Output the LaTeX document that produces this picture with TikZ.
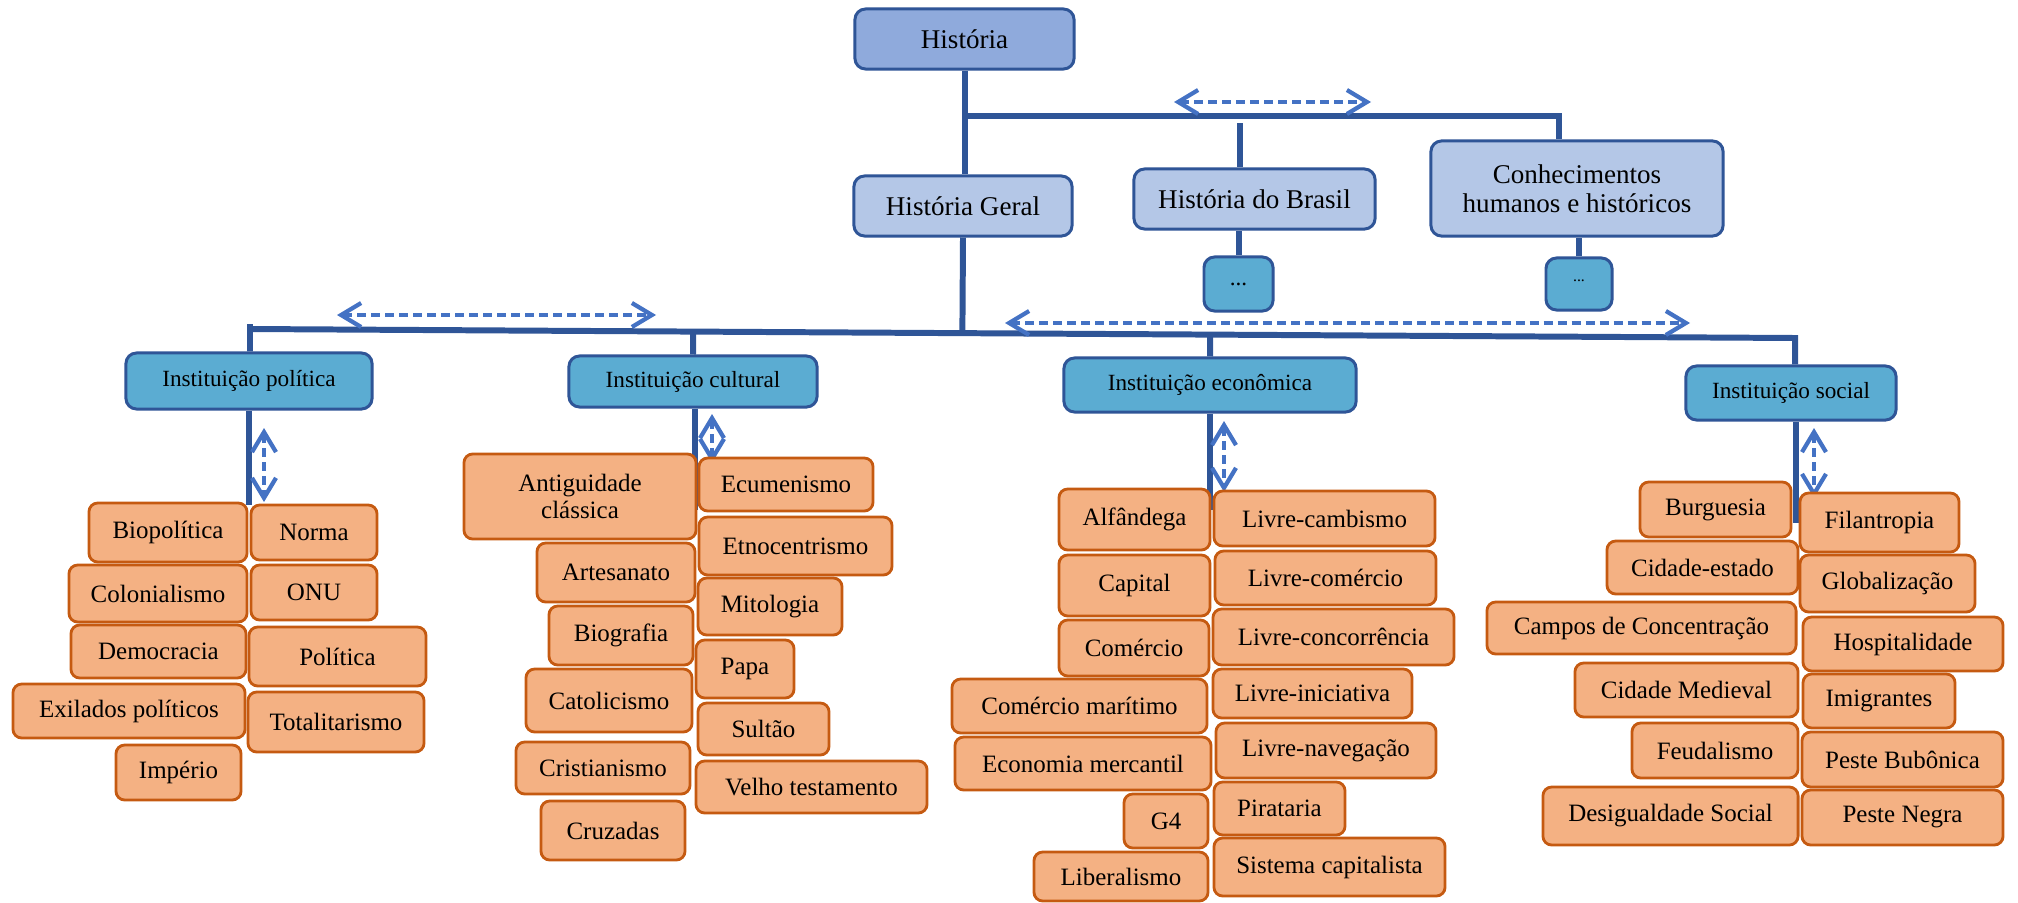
\documentclass[tikz,border=0pt]{standalone}
\usepackage{fontspec}
\setmainfont{Liberation Serif}
\usetikzlibrary{arrows.meta,calc}

\definecolor{azulescuro}{HTML}{2F5597}
\definecolor{azulmedio}{HTML}{4472C4}
\definecolor{azultopo}{HTML}{8FAADC}
\definecolor{azulclaro}{HTML}{B4C7E7}
\definecolor{azulinst}{HTML}{5BACD2}
\definecolor{laranja}{HTML}{F4B183}
\definecolor{laranjaescuro}{HTML}{C55A11}

\tikzset{
  topo/.style={draw=azulescuro, fill=azultopo, line width=0.85pt, rounded corners=3pt,
    inner sep=0pt, align=center, font=\fontsize{7.7}{8.3}\selectfont},
  ramo/.style={topo, fill=azulclaro},
  inst/.style={topo, fill=azulinst, font=\fontsize{6.6}{8}\selectfont},
  folha/.style={draw=laranjaescuro, fill=laranja, line width=0.8pt, rounded corners=2.5pt,
    inner sep=0pt, align=center, font=\fontsize{7.1}{7.6}\selectfont},
  linha/.style={draw=azulescuro, line width=1.7pt},
  seta/.style={draw=azulmedio, line width=1.2pt, dash pattern=on 0.09cm off 0.05cm,
    {Straight Barb[length=0.2cm,width=0.24cm]}-{Straight Barb[length=0.2cm,width=0.24cm]}},
}

\begin{document}
\begin{tikzpicture}[x=0.01cm, y=-0.01cm]
    \useasboundingbox (0,0) rectangle (2018,903);

    % caixas do topo
    \node[topo, minimum width=2.19cm, minimum height=0.6cm] (historia) at (964.5,39) {História};
    \node[ramo, minimum width=2.18cm, minimum height=0.6cm] (geral) at (963,206) {História Geral};
    \node[ramo, minimum width=2.41cm, minimum height=0.6cm] (brasil) at (1254.5,199) {História do Brasil};
    \node[ramo, minimum width=2.92cm, minimum height=0.95cm] (conhec) at (1577,188.5) {Conhecimentos\\humanos e históricos};
    \node[inst, minimum width=0.69cm, minimum height=0.54cm] (mais1) at (1238.5,284) {...};
    \node[inst, minimum width=0.66cm, minimum height=0.52cm, font=\fontsize{4.5}{5}\selectfont] (mais2) at (1579,284) {\raisebox{1ex}{...}};

    % instituições
    \node[inst, minimum width=2.46cm, minimum height=0.56cm] (politica) at (249,381) {Instituição política};
    \node[inst, minimum width=2.48cm, minimum height=0.51cm] (cultural) at (693,381.5) {Instituição cultural};
    \node[inst, minimum width=2.92cm, minimum height=0.54cm] (economica) at (1210,385) {Instituição econômica};
    \node[inst, minimum width=2.10cm, minimum height=0.54cm] (social) at (1791,393) {Instituição social};

    % ligações de cima
    \coordinate (juncao) at (963,116);
    \coordinate (quina) at (1559,116);
    \coordinate (brasiltopo) at (1240,123);
    \draw[linha] (historia.south) -- (historia.south |- geral.north);
    \draw[linha] (juncao) -- (quina) -- (quina |- conhec.north);
    \draw[linha] (brasiltopo) -- (brasiltopo |- brasil.north);
    \draw[linha] (mais1.north) -- (mais1.north |- brasil.south);
    \draw[linha] (mais2.north) -- (mais2.north |- conhec.south);

    % barra das instituições
    \coordinate (esq) at (250,329);
    \coordinate (dir) at (1795,338);
    \draw[linha] (geral.south) -- ($(esq)!(geral.south)!(dir)$);
    \draw[linha] (esq |- politica.north) -- (esq) -- (dir) -- (dir |- social.north);
    \draw[linha] (esq) -- ++(0,-5);
    \draw[linha] (cultural.north) -- ($(esq)!(cultural.north)!(dir)$);
    \draw[linha] (economica.north) -- ($(esq)!(economica.north)!(dir)$);

    % setas tracejadas horizontais
    \coordinate (h1a) at (1174,102); \coordinate (h1b) at (1371,102);
    \coordinate (h2a) at (337,315);  \coordinate (h2b) at (656,315);
    \coordinate (h3a) at (1005,323); \coordinate (h3b) at (1690,323);
    \draw[seta] (h1a) -- (h1b);
    \draw[seta] (h2a) -- (h2b);
    \draw[seta] (h3a) -- (h3b);

    % troncos sob as instituições
    \coordinate (pe1) at (249,505);
    \coordinate (pe2) at (695,510);
    \coordinate (pe3) at (1210,510);
    \coordinate (pe4) at (1796,523);
    \draw[linha] (pe1 |- politica.south) -- (pe1);
    \draw[linha] (pe2 |- cultural.south) -- (pe2);
    \draw[linha] (pe3 |- economica.south) -- (pe3);
    \draw[linha] (pe4 |- social.south) -- (pe4);

    % setas tracejadas verticais
    \coordinate (v1a) at (264,428);  \coordinate (v1b) at (264,502);
    \coordinate (v2a) at (712,414);  \coordinate (v2b) at (712,463);
    \coordinate (v3a) at (1224,421); \coordinate (v3b) at (1224,492);
    \coordinate (v4a) at (1814,428); \coordinate (v4b) at (1814,498);
    \draw[seta] (v1a) -- (v1b);
    \draw[seta] (v2a) -- (v2b);
    \draw[seta] (v3a) -- (v3b);
    \draw[seta] (v4a) -- (v4b);

    % conceitos: instituição política
    \node[folha, minimum width=1.58cm, minimum height=0.59cm] (biopolitica) at (168,532.5) {Biopolítica};
    \node[folha, minimum width=1.26cm, minimum height=0.55cm] (norma) at (314,532.5) {Norma};
    \node[folha, minimum width=1.78cm, minimum height=0.57cm] (colonialismo) at (158,593.5) {Colonialismo};
    \node[folha, minimum width=1.26cm, minimum height=0.55cm] (onu) at (314,592.5) {ONU};
    \node[folha, minimum width=1.75cm, minimum height=0.53cm] (democracia) at (158.5,651.5) {Democracia};
    \node[folha, minimum width=1.77cm, minimum height=0.59cm] (pol) at (337.5,656.5) {Política};
    \node[folha, minimum width=2.32cm, minimum height=0.54cm] (exilados) at (129,711) {Exilados políticos};
    \node[folha, minimum width=1.76cm, minimum height=0.60cm] (totalitarismo) at (336,722) {Totalitarismo};
    \node[folha, minimum width=1.25cm, minimum height=0.55cm] (imperio) at (178.5,772.5) {Império};

    % conceitos: instituição cultural
    \node[folha, minimum width=2.32cm, minimum height=0.85cm] (antiguidade) at (580,496.5) {Antiguidade\\clássica};
    \node[folha, minimum width=1.74cm, minimum height=0.53cm] (ecumenismo) at (786,484.5) {Ecumenismo};
    \node[folha, minimum width=1.58cm, minimum height=0.59cm] (artesanato) at (616,572.5) {Artesanato};
    \node[folha, minimum width=1.93cm, minimum height=0.58cm] (etnocentrismo) at (795.5,546) {Etnocentrismo};
    \node[folha, minimum width=1.44cm, minimum height=0.59cm] (biografia) at (621,635.5) {Biografia};
    \node[folha, minimum width=1.44cm, minimum height=0.57cm] (mitologia) at (770,606.5) {Mitologia};
    \node[folha, minimum width=1.66cm, minimum height=0.63cm] (catolicismo) at (609,700.5) {Catolicismo};
    \node[folha, minimum width=0.98cm, minimum height=0.58cm] (papa) at (745,669) {Papa};
    \node[folha, minimum width=1.31cm, minimum height=0.52cm] (sultao) at (763.5,729) {Sultão};
    \node[folha, minimum width=1.74cm, minimum height=0.52cm] (cristianismo) at (603,768) {Cristianismo};
    \node[folha, minimum width=2.31cm, minimum height=0.52cm] (velho) at (811.5,787) {Velho testamento};
    \node[folha, minimum width=1.44cm, minimum height=0.59cm] (cruzadas) at (613,830.5) {Cruzadas};

    % conceitos: instituição econômica
    \node[folha, minimum width=1.51cm, minimum height=0.61cm] (alfandega) at (1134.5,519.5) {Alfândega};
    \node[folha, minimum width=2.21cm, minimum height=0.55cm] (cambismo) at (1324.5,518.5) {Livre-cambismo};
    \node[folha, minimum width=1.51cm, minimum height=0.61cm] (capital) at (1134.5,585.5) {Capital};
    \node[folha, minimum width=2.21cm, minimum height=0.54cm] (livrecomercio) at (1325.5,578) {Livre-comércio};
    \node[folha, minimum width=1.50cm, minimum height=0.56cm] (comercio) at (1134,648) {Comércio};
    \node[folha, minimum width=2.41cm, minimum height=0.56cm] (concorrencia) at (1333.5,637) {Livre-concorrência};
    \node[folha, minimum width=2.55cm, minimum height=0.54cm] (maritimo) at (1079.5,706) {Comércio marítimo};
    \node[folha, minimum width=1.99cm, minimum height=0.49cm] (iniciativa) at (1312.5,693.5) {Livre-iniciativa};
    \node[folha, minimum width=2.56cm, minimum height=0.53cm] (mercantil) at (1083,763.5) {Economia mercantil};
    \node[folha, minimum width=2.20cm, minimum height=0.55cm] (navegacao) at (1326,750.5) {Livre-navegação};
    \node[folha, minimum width=0.84cm, minimum height=0.54cm] (g4) at (1166,821) {G4};
    \node[folha, minimum width=1.31cm, minimum height=0.53cm] (pirataria) at (1279.5,808.5) {Pirataria};
    \node[folha, minimum width=1.74cm, minimum height=0.49cm] (liberalismo) at (1121,876.5) {Liberalismo};
    \node[folha, minimum width=2.31cm, minimum height=0.58cm] (capitalista) at (1329.5,867) {Sistema capitalista};

    % conceitos: instituição social
    \node[folha, minimum width=1.51cm, minimum height=0.55cm] (burguesia) at (1715.5,509.5) {Burguesia};
    \node[folha, minimum width=1.59cm, minimum height=0.59cm] (filantropia) at (1879.5,522.5) {Filantropia};
    \node[folha, minimum width=1.91cm, minimum height=0.53cm] (cidadeestado) at (1702.5,567.5) {Cidade-estado};
    \node[folha, minimum width=1.75cm, minimum height=0.57cm] (globalizacao) at (1887.5,583.5) {Globalização};
    \node[folha, minimum width=3.09cm, minimum height=0.52cm] (campos) at (1641.5,628) {Campos de Concentração};
    \node[folha, minimum width=2.00cm, minimum height=0.54cm] (hospitalidade) at (1903,644) {Hospitalidade};
    \node[folha, minimum width=2.23cm, minimum height=0.54cm] (medieval) at (1686.5,690) {Cidade Medieval};
    \node[folha, minimum width=1.52cm, minimum height=0.54cm] (imigrantes) at (1879,701) {Imigrantes};
    \node[folha, minimum width=1.66cm, minimum height=0.55cm] (feudalismo) at (1715,750.5) {Feudalismo};
    \node[folha, minimum width=2.01cm, minimum height=0.55cm] (bubonica) at (1902.5,759.5) {Peste Bubônica};
    \node[folha, minimum width=2.55cm, minimum height=0.58cm] (desigualdade) at (1670.5,816) {Desigualdade Social};
    \node[folha, minimum width=2.01cm, minimum height=0.55cm] (negra) at (1902.5,817.5) {Peste Negra};

\end{tikzpicture}
\end{document}
